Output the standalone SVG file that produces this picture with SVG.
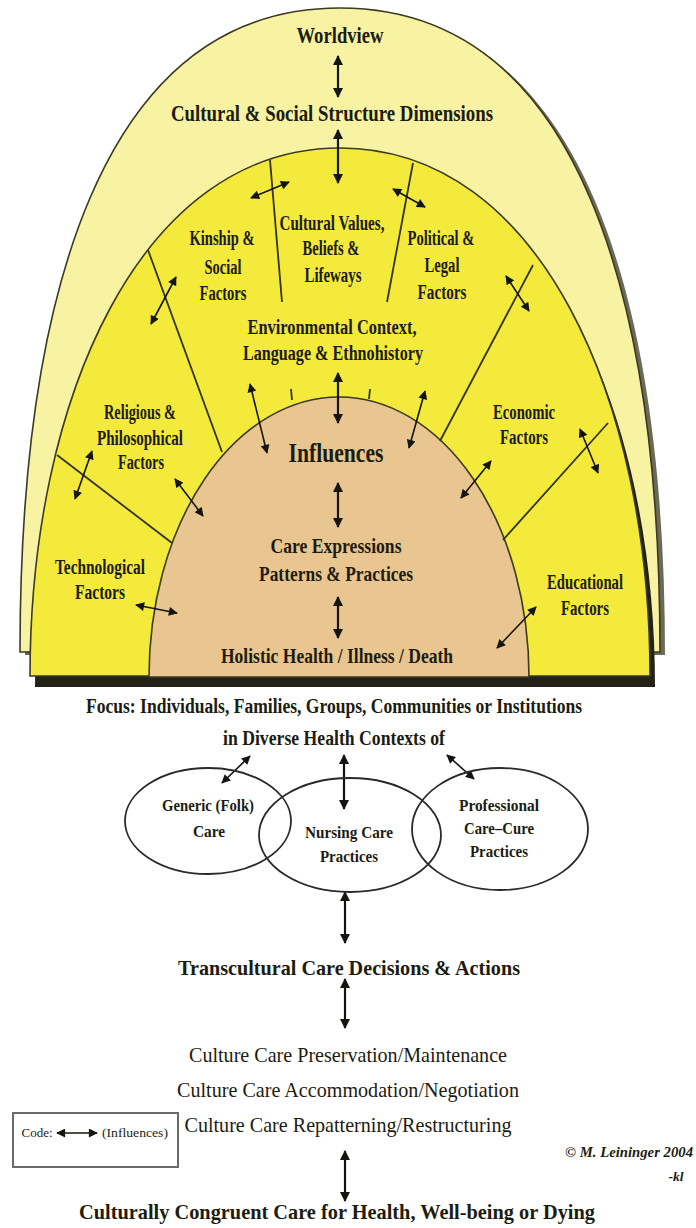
<svg xmlns="http://www.w3.org/2000/svg" width="696" height="1228" viewBox="0 0 696 1228">
<style>
.t{font-family:"Liberation Serif","Times New Roman",serif;font-weight:bold;fill:#1c1c10;text-anchor:middle}
.r{font-weight:normal}
.div{stroke:#34331e;stroke-width:1.8;fill:none}
.arc{stroke:#3b3a22;stroke-width:1.6}
.a{stroke:#141410;stroke-width:1.6;fill:none;marker-start:url(#ah);marker-end:url(#ah)}
.A{stroke:#141410;stroke-width:2.2;fill:none;marker-start:url(#AH);marker-end:url(#AH)}
.ell{fill:none;stroke:#2a2a2a;stroke-width:1.8}
</style>
<defs>
<marker id="ah" viewBox="0 0 10 10" refX="9" refY="5" markerWidth="10" markerHeight="9" markerUnits="userSpaceOnUse" orient="auto-start-reverse"><path d="M0,0 L10,5 L0,10 z" fill="#141410"/></marker>
<marker id="AH" viewBox="0 0 10 10" refX="9" refY="5" markerWidth="12" markerHeight="10" markerUnits="userSpaceOnUse" orient="auto-start-reverse"><path d="M0,0 L10,5 L0,10 z" fill="#141410"/></marker>
<path id="outerDome" d="M20,652 C20,300 100,8 340,8 C580,8 660,300 660,652 Z"/>
<path id="midDome" d="M30,676 C30,400 140,148 340,148 C540,148 650,400 650,676 Z"/>
</defs>
<rect width="696" height="1228" fill="#ffffff"/>

<g id="dome">
<use href="#outerDome" transform="translate(5,3)" fill="#6b6a58"/>
<use href="#outerDome" fill="#F7F3A3" class="arc"/>
<use href="#midDome" transform="translate(5,11)" fill="#222218"/>
<use href="#midDome" fill="#F3EA3C" class="arc"/>
<path d="M149,677 A190,280 0 0 1 529,677 Z" fill="#E9C58F" class="arc"/>
<line class="div" x1="270" y1="160" x2="282" y2="302"/>
<line class="div" x1="413" y1="163" x2="387" y2="302"/>
<line class="div" x1="148" y1="250" x2="222" y2="452"/>
<line class="div" x1="533" y1="265" x2="440" y2="441"/>
<line class="div" x1="57" y1="455" x2="172" y2="543"/>
<line class="div" x1="608" y1="423" x2="503" y2="540"/>
<line class="div" x1="291" y1="389" x2="292" y2="400" stroke-width="1.4"/>
<line class="div" x1="370" y1="389" x2="369" y2="399" stroke-width="1.4"/>
</g>

<g id="connectors">
<line class="A" x1="338" y1="56" x2="338" y2="97"/>
<line class="A" x1="338" y1="130" x2="338" y2="183"/>
<line class="A" x1="338" y1="373" x2="338" y2="423"/>
<line class="A" x1="338" y1="483" x2="338" y2="527"/>
<line class="A" x1="338" y1="597" x2="338" y2="638"/>
<line class="a" x1="251" y1="198" x2="289" y2="182"/>
<line class="a" x1="393" y1="189" x2="425" y2="207"/>
<line class="a" x1="176" y1="277" x2="151" y2="324"/>
<line class="a" x1="506" y1="276" x2="529" y2="311"/>
<line class="a" x1="250" y1="384" x2="267" y2="453"/>
<line class="a" x1="425" y1="391" x2="409" y2="448"/>
<line class="a" x1="92" y1="451" x2="75" y2="499"/>
<line class="a" x1="175" y1="479" x2="203" y2="516"/>
<line class="a" x1="136" y1="605" x2="177" y2="613"/>
<line class="a" x1="491" y1="461" x2="461" y2="498"/>
<line class="a" x1="580" y1="429" x2="598" y2="473"/>
<line class="a" x1="536" y1="607" x2="497" y2="648"/>
<line class="a" x1="222" y1="783" x2="250" y2="756"/>
<line class="A" x1="344" y1="755" x2="344" y2="809"/>
<line class="a" x1="447" y1="755" x2="474" y2="779"/>
<line class="A" x1="345" y1="892" x2="345" y2="943"/>
<line class="A" x1="345" y1="979" x2="345" y2="1028"/>
<line class="A" x1="345" y1="1151" x2="345" y2="1201"/>
</g>

<g id="n-worldview"><text class="t" x="340" y="43" font-size="24" textLength="87" lengthAdjust="spacingAndGlyphs">Worldview</text></g>
<g id="n-cultural-social"><text class="t" x="332" y="121" font-size="24" textLength="322" lengthAdjust="spacingAndGlyphs">Cultural &amp; Social Structure Dimensions</text></g>
<g id="n-kinship">
<text class="t" x="222" y="245" font-size="20" textLength="65" lengthAdjust="spacingAndGlyphs">Kinship &amp;</text>
<text class="t" x="223" y="274" font-size="20" textLength="37" lengthAdjust="spacingAndGlyphs">Social</text>
<text class="t" x="223" y="300" font-size="20" textLength="47" lengthAdjust="spacingAndGlyphs">Factors</text>
</g>
<g id="n-values">
<text class="t" x="332" y="230" font-size="20" textLength="105" lengthAdjust="spacingAndGlyphs">Cultural Values,</text>
<text class="t" x="331" y="255" font-size="20" textLength="57" lengthAdjust="spacingAndGlyphs">Beliefs &amp;</text>
<text class="t" x="333" y="282" font-size="20" textLength="57" lengthAdjust="spacingAndGlyphs">Lifeways</text>
</g>
<g id="n-political">
<text class="t" x="441" y="245" font-size="20" textLength="67" lengthAdjust="spacingAndGlyphs">Political &amp;</text>
<text class="t" x="442" y="272" font-size="20" textLength="35" lengthAdjust="spacingAndGlyphs">Legal</text>
<text class="t" x="442" y="299" font-size="20" textLength="49" lengthAdjust="spacingAndGlyphs">Factors</text>
</g>
<g id="n-environment">
<text class="t" x="332" y="334" font-size="20" textLength="169" lengthAdjust="spacingAndGlyphs">Environmental Context,</text>
<text class="t" x="333" y="360" font-size="20" textLength="180" lengthAdjust="spacingAndGlyphs">Language &amp; Ethnohistory</text>
</g>
<g id="n-religious">
<text class="t" x="140" y="419" font-size="20" textLength="72" lengthAdjust="spacingAndGlyphs">Religious &amp;</text>
<text class="t" x="140" y="445" font-size="20" textLength="86" lengthAdjust="spacingAndGlyphs">Philosophical</text>
<text class="t" x="141" y="469" font-size="20" textLength="46" lengthAdjust="spacingAndGlyphs">Factors</text>
</g>
<g id="n-economic">
<text class="t" x="524" y="419" font-size="20" textLength="62" lengthAdjust="spacingAndGlyphs">Economic</text>
<text class="t" x="524" y="444" font-size="20" textLength="48" lengthAdjust="spacingAndGlyphs">Factors</text>
</g>
<g id="n-technological">
<text class="t" x="100" y="574" font-size="20" textLength="90" lengthAdjust="spacingAndGlyphs">Technological</text>
<text class="t" x="100" y="599" font-size="20" textLength="50" lengthAdjust="spacingAndGlyphs">Factors</text>
</g>
<g id="n-educational">
<text class="t" x="585" y="589" font-size="20" textLength="76" lengthAdjust="spacingAndGlyphs">Educational</text>
<text class="t" x="585" y="615" font-size="20" textLength="48" lengthAdjust="spacingAndGlyphs">Factors</text>
</g>
<g id="n-influences"><text class="t" x="336" y="462" font-size="28" textLength="95" lengthAdjust="spacingAndGlyphs">Influences</text></g>
<g id="n-care-expressions">
<text class="t" x="336" y="553" font-size="22" textLength="131" lengthAdjust="spacingAndGlyphs">Care Expressions</text>
<text class="t" x="336" y="581" font-size="22" textLength="154" lengthAdjust="spacingAndGlyphs">Patterns &amp; Practices</text>
</g>
<g id="n-holistic"><text class="t" x="337" y="663" font-size="22" textLength="232" lengthAdjust="spacingAndGlyphs">Holistic Health / Illness / Death</text></g>
<g id="n-focus">
<text class="t" x="334" y="713" font-size="20" textLength="496" lengthAdjust="spacingAndGlyphs">Focus:  Individuals, Families, Groups, Communities or Institutions</text>
<text class="t" x="334" y="745" font-size="20" textLength="222" lengthAdjust="spacingAndGlyphs">in Diverse Health Contexts of</text>
</g>
<g id="n-generic">
<ellipse class="ell" cx="208" cy="821" rx="83" ry="53"/>
<text class="t" x="208" y="811" font-size="16" textLength="92" lengthAdjust="spacingAndGlyphs">Generic (Folk)</text>
<text class="t" x="209" y="837" font-size="16" textLength="32" lengthAdjust="spacingAndGlyphs">Care</text>
</g>
<g id="n-nursing">
<ellipse class="ell" cx="350" cy="835" rx="91" ry="57"/>
<text class="t" x="349" y="838" font-size="16" textLength="88" lengthAdjust="spacingAndGlyphs">Nursing Care</text>
<text class="t" x="349" y="862" font-size="16" textLength="58" lengthAdjust="spacingAndGlyphs">Practices</text>
</g>
<g id="n-professional">
<ellipse class="ell" cx="500" cy="829" rx="88" ry="61"/>
<text class="t" x="499" y="811" font-size="16" textLength="80" lengthAdjust="spacingAndGlyphs">Professional</text>
<text class="t" x="499" y="834" font-size="16" textLength="70" lengthAdjust="spacingAndGlyphs">Care–Cure</text>
<text class="t" x="499" y="857" font-size="16" textLength="58" lengthAdjust="spacingAndGlyphs">Practices</text>
</g>
<g id="n-transcultural"><text class="t" x="349" y="975" font-size="21" textLength="342" lengthAdjust="spacingAndGlyphs">Transcultural Care Decisions &amp; Actions</text></g>
<g id="n-modes">
<text class="t r" x="348" y="1062" font-size="21" textLength="318" lengthAdjust="spacingAndGlyphs">Culture Care Preservation/Maintenance</text>
<text class="t r" x="348" y="1097" font-size="21" textLength="342" lengthAdjust="spacingAndGlyphs">Culture Care Accommodation/Negotiation</text>
<text class="t r" x="348" y="1132" font-size="21" textLength="327" lengthAdjust="spacingAndGlyphs">Culture Care Repatterning/Restructuring</text>
</g>
<g id="n-congruent"><text class="t" x="337" y="1219" font-size="21" textLength="516" lengthAdjust="spacingAndGlyphs">Culturally Congruent Care for Health, Well-being or Dying</text></g>
<g id="n-code">
<rect x="13" y="1113" width="165" height="54" fill="none" stroke="#6a6a6a" stroke-width="2"/>
<text class="t r" x="37" y="1137" font-size="13" textLength="31" lengthAdjust="spacingAndGlyphs">Code:</text>
<line class="a" x1="57" y1="1133" x2="97" y2="1133"/>
<text class="t r" x="135" y="1137" font-size="13" textLength="66" lengthAdjust="spacingAndGlyphs">(Influences)</text>
</g>
<g id="n-copyright">
<text class="t" x="629" y="1157" font-size="15" font-style="italic" textLength="128" lengthAdjust="spacingAndGlyphs">© M. Leininger 2004</text>
<text class="t" x="676" y="1181" font-size="13" font-style="italic" textLength="15" lengthAdjust="spacingAndGlyphs">-kl</text>
</g>
</svg>
